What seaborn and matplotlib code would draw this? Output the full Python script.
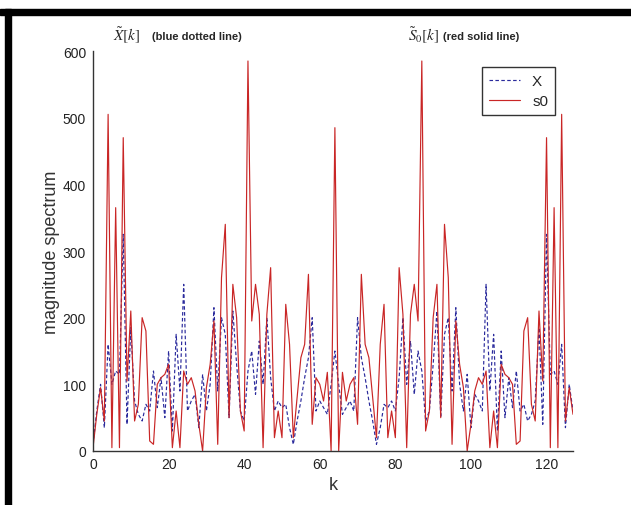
import matplotlib
matplotlib.use('Agg')
import matplotlib.pyplot as plt
from matplotlib.patches import Rectangle
import seaborn as sns
import pandas as pd

sns.set_style('white')
plt.rcParams['font.family'] = ['Liberation Sans Narrow', 'Liberation Sans', 'DejaVu Sans']
plt.rcParams['mathtext.fontset'] = 'stix'

# k = 0..127, magnitudes
k_vals = list(range(128))

x_mag = [10, 60, 100, 35, 160, 100, 120, 115, 325, 40,
         185, 75, 55, 45, 70, 60, 120, 65, 110, 50,
         150, 30, 175, 90, 250, 60, 75, 85, 35, 115,
         60, 100, 215, 90, 200, 175, 50, 210, 130, 60,
         45, 120, 150, 85, 165, 100, 200, 110, 60, 75,
         65, 70, 35, 10, 45, 75, 110, 140, 200, 60,
         75, 65, 55, 100, 150, 100, 55, 65, 75, 60,
         200, 140, 110, 75, 45, 10, 35, 70, 65, 75,
         60, 110, 200, 100, 165, 85, 150, 120, 45, 60,
         130, 210, 50, 175, 200, 90, 215, 100, 60, 115,
         35, 85, 75, 60, 250, 90, 175, 30, 150, 50,
         110, 65, 120, 60, 70, 45, 55, 75, 185, 40,
         325, 115, 120, 100, 160, 35, 100, 60]

s0_mag = [5, 55, 95, 45, 505, 5, 365, 5, 470, 105,
          210, 45, 70, 200, 180, 15, 10, 100, 110, 115,
          130, 5, 60, 5, 120, 100, 110, 90, 40, 0,
          95, 130, 195, 10, 260, 340, 50, 250, 200, 60,
          30, 585, 195, 250, 205, 5, 205, 275, 20, 60,
          20, 220, 160, 20, 80, 140, 160, 265, 40, 110,
          100, 75, 118, 0, 485, 0, 118, 75, 100, 110,
          40, 265, 160, 140, 80, 20, 160, 220, 20, 60,
          20, 275, 205, 5, 205, 250, 195, 585, 30, 60,
          200, 250, 50, 340, 260, 10, 195, 130, 95, 0,
          40, 90, 110, 100, 120, 5, 60, 5, 130, 115,
          110, 100, 10, 15, 180, 200, 70, 45, 210, 105,
          470, 5, 365, 5, 505, 45, 95, 55]

x_ticks = [0, 20, 40, 60, 80, 100, 120]
y_ticks = [0, 100, 200, 300, 400, 500, 600]

df = pd.DataFrame({'k': k_vals, 'X': x_mag, 's0': s0_mag})

W, H = 631, 506
fig = plt.figure(figsize=(W / 100, H / 100), dpi=100)
ax = fig.add_axes([93 / W, (H - 452) / H, 480 / W, 400 / H])

sns.lineplot(data=df, x='k', y='X', ax=ax, color='#2a2a9c', linestyle=(0, (3, 2)),
             linewidth=0.85, label='X')
sns.lineplot(data=df, x='k', y='s0', ax=ax, color='#c92626', linewidth=0.85, label='s0')

ax.set_xlim(0, 127)
ax.set_ylim(0, 600)
ax.set_xticks(x_ticks)
ax.set_yticks(y_ticks)
sns.despine(ax=ax)
for sp in ['left', 'bottom']:
    ax.spines[sp].set_color('#333333')
    ax.spines[sp].set_linewidth(1.0)
ax.tick_params(axis='x', direction='in', length=4, labelsize=10, colors='#222222', pad=4)
ax.tick_params(axis='y', direction='out', length=4, labelsize=10, colors='#222222', pad=1)

ax.set_xlabel('k', fontsize=13, family='Liberation Sans', color='#333333')
ax.set_ylabel('magnitude spectrum', fontsize=13, family='Liberation Sans', color='#333333',
              labelpad=2)

leg = ax.legend(loc='upper right', bbox_to_anchor=(0.9625, 0.96), frameon=True,
                fancybox=False, edgecolor='black', fontsize=11, handlelength=2.0,
                handletextpad=0.8, borderpad=0.45, labelspacing=0.4, borderaxespad=0)
leg.get_frame().set_linewidth(1.0)

# titles above the axes
fig.text(113 / W, 1 - 36 / H, r'$\tilde{X}[k]$', fontsize=11, va='center')
fig.text(152 / W, 1 - 37 / H, '(blue dotted line)', fontsize=8, weight='bold', va='center')
fig.text(408 / W, 1 - 36 / H, r'$\tilde{S}_0[k]$', fontsize=11, va='center')
fig.text(443 / W, 1 - 37 / H, '(red solid line)', fontsize=8, weight='bold', va='center')

# black frame bits from the screenshot
fig.patches.append(Rectangle((0, 1 - 16 / H), 1, 6 / H, transform=fig.transFigure,
                             color='black', zorder=5))
fig.patches.append(Rectangle((5 / W, 0), 6 / W, 1 - 10 / H, transform=fig.transFigure,
                             color='black', zorder=5))

fig.savefig('out.png', dpi=100)
